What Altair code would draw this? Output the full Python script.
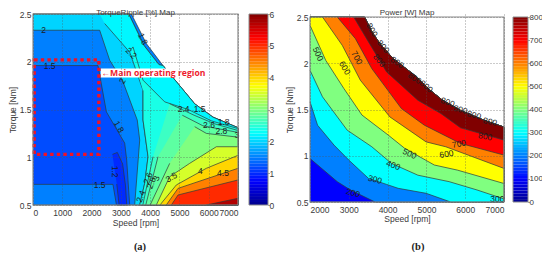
import altair as alt
import pandas as pd

FONT = "Liberation Sans"
TXT = "#3a3a3a"
JET_STOPS = [0, 0.125, 0.375, 0.625, 0.875, 1]
JET_COLORS = ["#00008F", "#0000FF", "#00FFFF", "#FFFF00", "#FF0000", "#800000"]

# ---- panel (a): torque ripple [%]
edge_a = [(3360, 2.5), (3870, 2.19), (4440, 1.96), (5520, 1.56), (6145, 1.42), (7000, 1.31)]
inner_a = [(3270, 2.5), (3790, 2.17), (4300, 1.97), (4440, 1.96), (5520, 1.56), (6145, 1.42), (7000, 1.31)]
left_2_2 = [(7000, .5), (3643, .5), (3814, .727), (3928, 1.006), (3757, 1.39), (3757, 1.70)]

bands_a = [
    (1.5, [(0, 2.5)] + edge_a + [(7000, .5), (0, .5)]),
    (1.2, [(0, 1.96), (2220, 1.96), (2507, 1.475), (3131, 1.148), (3200, .97), (3250, .73), (3302, .5),
           (2850, .5), (2730, .716), (0, .716)]),
    (1.0, [(2712, 1.03), (2880, 1.05), (3060, .93), (3160, .70), (3200, .5), (2940, .5), (2860, .72)]),
    (2.0, [(0, 2.5)] + inner_a + [(7000, .5), (3472, .5), (3644, 1.18), (3560, 1.39), (3074, 1.79),
           (2619, 2.016), (2277, 2.33), (0, 2.33)]),
    (2.2, [(2277, 2.5)] + inner_a + left_2_2 + [(3302, 2.10), (2448, 2.40)]),
    (2.4, [(3350, 2.13), (3415, 2.155), (3757, 1.807), (4497, 1.58), (5300, 1.50), (6100, 1.38), (7000, 1.30)]
          + left_2_2),
    (2.6, [(4667, 1.56), (5500, 1.44), (6200, 1.35), (7000, 1.28), (7000, .5), (3750, .5), (4098, 1.006)]),
    (2.8, [(5098, 1.44), (5800, 1.33), (6300, 1.30), (7000, 1.26), (7000, .5), (3850, .5), (4269, 1.006)]),
    (3.0, [(5521, 1.32), (5919, 1.25), (7000, 1.21), (7000, .5), (4000, .5), (4667, .936)]),
    (3.5, [(7000, 1.11), (6260, 1.11), (5350, .936), (4667, .796), (4210, .5), (7000, .5)]),
    (4.0, [(7000, 1.02), (5919, .884), (4895, .71), (4383, .518), (4350, .5), (7000, .5)]),
    (4.5, [(7000, .884), (4952, .674), (4550, .5), (7000, .5)]),
    (5.0, [(7000, .762), (4952, .605), (4724, .5), (7000, .5)]),
    (5.7, [(7000, .57), (5919, .5), (7000, .5)]),
]
labels_a = [
    ("2", 364, 2.33, 0), ("1.5", 569, 1.96, 0), ("1.5", 2276, .71, 0), ("1.2", 2788, .85, 90),
    ("1.8", 2936, 1.32, 60), ("2", 3050, 1.80, 300), ("2.2", 3357, 2.09, 45), ("1.8", 3755, 2.24, 65),
    ("2.4", 5144, 1.51, 0), ("1.5", 5690, 1.51, 0), ("1.8", 6509, 1.37, 0), ("2.6", 6009, 1.34, 0),
    ("2.8", 6430, 1.28, 0), ("3", 6965, 1.23, 0), ("3.5", 4723, .79, 330), ("4", 5713, .86, 0),
    ("4.5", 6487, .84, 0), ("2.4", 3676, .59, 290), ("2.6", 3926, .78, 290), ("2.8", 4040, .73, 290),
    ("3", 4211, .78, 290),
]

# ---- panel (b): power [W]
edge_b = [(3407, 2.5), (3593, 2.34), (3805, 2.21), (4144, 2.05), (4695, 1.87), (5034, 1.73), (5415, 1.60),
          (5881, 1.49), (6475, 1.385), (7000, 1.31)]
contours_b = [
    (200, [(2000, .97), (2703, .72), (3042, .63), (3678, .5)]),
    (300, [(2000, 1.583), (2195, 1.33), (2619, 1.115), (3000, .953), (3508, .755), (3975, .69), (4271, .648),
           (4992, .594), (5627, .5)]),
    (400, [(2000, 1.924), (2322, 1.637), (2958, 1.277), (3593, 1.097), (4102, .917), (4780, .79), (5585, .72),
           (6305, .63), (7000, .533)]),
    (500, [(2000, 2.41), (2407, 2.03), (2873, 1.727), (3339, 1.44), (4017, 1.223), (4441, 1.08), (5203, .90),
           (5797, .845), (7000, .70)]),
    (600, [(2322, 2.5), (2831, 2.194), (3297, 1.817), (4059, 1.42), (4992, 1.15), (5500, 1.097), (7000, .863)]),
    (700, [(2703, 2.5), (3170, 2.266), (3593, 1.942), (4356, 1.51), (4949, 1.33), (5881, 1.133), (7000, 1.007)]),
    (800, [(3127, 2.5), (3509, 2.23), (3975, 1.906), (4780, 1.60), (5373, 1.457), (5881, 1.302), (7000, 1.169)]),
]
labels_b = [
    ("500", 2212, 2.10, 65), ("600", 2898, 1.95, 60), ("700", 3212, 2.06, 60), ("800", 3788, 2.03, 50),
    ("800", 3600, 2.36, 60), ("800", 3890, 2.18, 50), ("800", 4250, 2.01, 35), ("800", 4700, 1.84, 35),
    ("800", 5000, 1.75, 40), ("800", 5550, 1.58, 20), ("800", 5880, 1.50, 15), ("800", 6230, 1.44, 15),
    ("800", 6644, 1.37, 12), ("500", 4568, 1.025, 25), ("400", 4144, .90, 20), ("300", 3678, .745, 15),
    ("200", 3110, .60, 15), ("600", 5517, 1.02, 350), ("700", 5839, 1.13, 350), ("800", 6517, 1.21, 10),
    ("300", 6830, .53, 0),
]

xticks_a = [0, 1000, 2000, 3000, 4000, 5000, 6000, 7000]
xticks_b = [2000, 3000, 4000, 5000, 6000, 7000]
yticks = [.5, 1, 1.5, 2, 2.5]
jet = alt.Scale(domain=JET_STOPS, range=JET_COLORS, interpolate="rgb")


def polygons(bands, vmax):
    rows = []
    for k, (lvl, pts) in enumerate(bands):
        for i, (s, t) in enumerate(pts):
            rows.append({"band": k, "frac": lvl / vmax, "i": i, "speed": s, "torque": t})
    return pd.DataFrame(rows)


def close_b(c):
    pts = list(c)
    if pts[-1][1] == .5:
        pts.append((7000, .5))
    pts += edge_b[::-1]
    if pts[0][0] == 2000:
        pts.append((2000, 2.5))
    return pts


bands_b = [(100, [(2000, 2.5)] + edge_b + [(7000, .5), (2000, .5)])] + [(l, close_b(c)) for l, c in contours_b]


def axis(values, fmt, title, lab_pad, ttl_pad):
    return alt.Axis(values=values, format=fmt, title=title, grid=True, gridColor="#505050", gridDash=[1, 2],
                    gridWidth=.8, gridOpacity=.75, zindex=1, tickSize=0, domain=False, labelFont=FONT,
                    labelFontSize=8.5, labelColor=TXT, titleFont=FONT, titleFontSize=8.5, titleColor=TXT,
                    titleFontWeight="normal", labelPadding=lab_pad, titlePadding=ttl_pad, labelOverlap=False)


def panel(bands, labels, vmax, xdom, xticks, w, h, rng, title, title_dy, xp, xtp, cap, extra=None):
    xs = alt.Scale(domain=xdom, nice=False, zero=False)
    ys = alt.Scale(domain=[.5, 2.5], nice=False, zero=False, range=rng)
    xa = axis(xticks, "d", "Speed [rpm]", xp, xtp)
    ya = axis(yticks, ".1~f", "Torque [Nm]", 2, 2)
    x = alt.X("speed:Q", scale=xs, axis=xa)
    y = alt.Y("torque:Q", scale=ys, axis=ya)
    d = polygons(bands, vmax)
    layers = []
    for k in sorted(set(d.band)):
        layers.append(alt.Chart(d[d.band == k]).mark_line(stroke="#2c3a3a", strokeWidth=.7).encode(
            x=x, y=y, order="i:Q", fill=alt.Fill("frac:Q", scale=jet, legend=None)))
    tdf = pd.DataFrame(labels, columns=["txt", "speed", "torque", "a"])
    text = alt.Chart(tdf).mark_text(font=FONT, fontSize=8.5, color="#1c1c1c").encode(
        x=x, y=y, text="txt:N", angle=alt.Angle("a:Q", scale=None))
    frame = alt.Chart(pd.DataFrame([{"a": xdom[0], "b": xdom[1], "c": .5, "d": 2.5}])).mark_rect(
        fill="white", fillOpacity=0, stroke="#8a8a8a", strokeWidth=1.2).encode(
        x=alt.X("a:Q", scale=xs, axis=xa), x2="b:Q", y=alt.Y("c:Q", scale=ys, axis=ya), y2="d:Q")
    capt = alt.Chart(pd.DataFrame([{"c": cap[0]}])).mark_text(
        font="Liberation Serif", fontSize=10.5, fontWeight="bold", color="#222").encode(
        text="c:N", x=alt.value(cap[1]), y=alt.value(cap[2]))
    ex = extra(xs, ys, xa, ya) if extra else []
    return alt.layer(*layers, *ex, text, frame, capt).properties(
        width=w, height=h,
        title=alt.TitleParams(title, font=FONT, fontSize=8, fontWeight="normal", color=TXT, dy=title_dy))


def colorbar(vmax, ticks, w, h, rng, fs):
    ys = alt.Scale(domain=[0, vmax], nice=False, zero=False, range=rng)
    ya = alt.Axis(orient="right", values=ticks, title=None, tickSize=1, tickColor="#444", domain=False, grid=False,
                  labelFont=FONT, labelFontSize=fs, labelColor=TXT, labelPadding=0, labelOverlap=False)
    n = 64
    df = pd.DataFrame({"lo": [vmax * i / n for i in range(n)], "hi": [vmax * (i + 1) / n for i in range(n)],
                       "v": [(i + .5) / n for i in range(n)]})
    bar = alt.Chart(df).mark_rect().encode(
        y=alt.Y("lo:Q", scale=ys, axis=ya), y2="hi:Q", color=alt.Color("v:Q", scale=jet, legend=None))
    frame = alt.Chart(pd.DataFrame([{"c": 0, "d": vmax}])).mark_rect(
        fill="white", fillOpacity=0, stroke="#8a8a8a", strokeWidth=1).encode(
        y=alt.Y("c:Q", scale=ys, axis=ya), y2="d:Q")
    return alt.layer(bar, frame).properties(width=w, height=h)


def annotations_a(xs, ys, xa, ya):
    box = alt.Chart(pd.DataFrame([{"a": 2310, "b": 5803, "c": 1.835, "d": 1.93}])).mark_rect(
        fill="white").encode(
        x=alt.X("a:Q", scale=xs, axis=xa), x2="b:Q", y=alt.Y("c:Q", scale=ys, axis=ya), y2="d:Q")
    region = alt.Chart(pd.DataFrame([{"a": 40, "b": 2250, "c": 1.03, "d": 2.02}])).mark_rect(
        fill="white", fillOpacity=0, stroke="#F01226", strokeWidth=3.4, strokeDash=[3.4, 3.2]).encode(
        x=alt.X("a:Q", scale=xs, axis=xa), x2="b:Q", y=alt.Y("c:Q", scale=ys, axis=ya), y2="d:Q")
    note = alt.Chart(pd.DataFrame([{"s": 2340, "t": 1.884, "n": "\u2190Main operating region"}])).mark_text(
        font="Open Sans", fontSize=8.6, fontWeight="bold", color="#EE1C2E", align="left").encode(
        x=alt.X("s:Q", scale=xs, axis=xa), y=alt.Y("t:Q", scale=ys, axis=ya), text="n:N")
    return [box, region, note]


def spacer(w):
    return alt.Chart(pd.DataFrame([{"z": 0}])).mark_point(opacity=0).encode(
        x=alt.value(0), y=alt.value(0)).properties(width=w, height=10)


left = panel(bands_a, labels_a, 6, [0, 7000], xticks_a, 205, 191, [191, 0], "TorqueRipple [%] Map", 11, 3, 2,
             ("(a)", 107, 233), extra=annotations_a)
right = panel(bands_b, labels_b, 800, [2000, 7000], xticks_b, 194, 188, [188, 3], "Power [W] Map", 7.5, 3, 1,
              ("(b)", 108, 233))

chart = alt.hconcat(
    left, spacer(11), colorbar(6, [0, 1, 2, 3, 4, 5, 6], 19, 191, [191, 0], 8.5), spacer(42),
    right, spacer(9), colorbar(800, [0, 100, 200, 300, 400, 500, 600, 700, 800], 15, 188, [188, 3], 8),
    spacing=0, bounds="flush",
).properties(
    autosize=alt.AutoSizeParams(type="none"),
    padding={"left": 25, "top": 6, "right": 509, "bottom": 238},
    background="white",
).configure_view(stroke=None)

chart.save("out.html", embed_options={"renderer": "svg", "actions": False})
